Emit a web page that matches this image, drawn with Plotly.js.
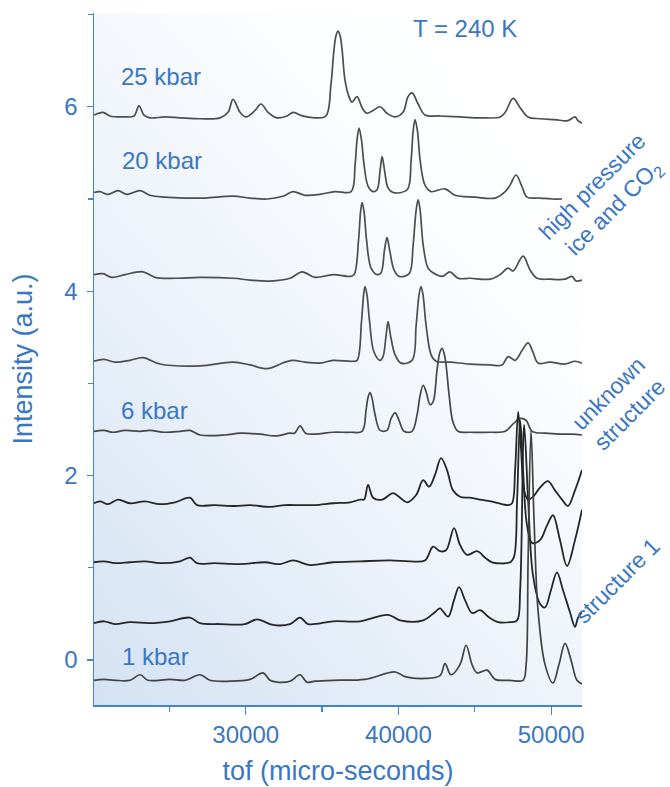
<!DOCTYPE html>
<html>
<head>
<meta charset="utf-8">
<script src="https://cdn.plot.ly/plotly-3.0.1.min.js"></script>
<style>html,body{margin:0;padding:0;background:#fff;}#chart{width:670px;height:787px;}</style>
</head>
<body>
<div id="chart"></div>
<script>
// ---- data (tof in micro-seconds, intensity in a.u., offsets included) ----
const tof_25kbar = [20065,20650,21110,22090,22680,23010,23340,23730,24710,25700,27010,28320,28840,29170,29630,30020,30610,31000,31460,32050,32700,33100,33560,34540,35250,35580,35780,35910,36040,36180,36310,36500,36760,36960,37290,37620,37940,38340,38800,39250,39780,40300,40630,40890,41290,41740,42720,44030,45350,46660,46990,47510,47970,48490,49270,50250,51100,51560,51760,52020];
const int_25kbar = [5.91,5.94,5.90,5.89,5.90,6.01,5.91,5.88,5.89,5.88,5.87,5.88,5.94,6.08,5.94,5.89,5.96,6.03,5.94,5.88,5.90,5.94,5.91,5.88,5.90,6.24,6.62,6.77,6.82,6.77,6.62,6.29,6.11,6.05,6.11,5.99,5.93,5.96,6.00,5.93,5.89,5.94,6.11,6.15,6.03,5.91,5.90,5.89,5.88,5.89,5.94,6.09,5.99,5.89,5.87,5.86,5.85,5.89,5.85,5.82];

const tof_20kbar = [20065,20460,20980,21640,22220,23080,23730,24710,26020,27340,29170,30280,31390,32440,33100,33880,34870,35850,36900,37160,37290,37420,37580,37750,38010,38340,38600,38800,38930,39090,39320,39650,40570,40830,40960,41090,41250,41420,41740,42140,43050,43700,45020,46330,46990,47310,47700,48100,48420,49270,50050,50710];
const int_20kbar = [5.07,5.08,5.05,5.09,5.05,5.09,5.04,5.02,5.01,5.01,5.03,5.01,5.00,5.03,5.08,5.04,5.05,5.08,5.08,5.37,5.64,5.77,5.64,5.37,5.14,5.08,5.10,5.31,5.46,5.31,5.12,5.07,5.10,5.42,5.73,5.86,5.73,5.42,5.15,5.08,5.11,5.04,5.02,5.01,5.08,5.15,5.26,5.13,5.02,5.01,5.00,5.00];

const tof_p3 = [20065,20650,21240,22090,23270,24060,25370,27010,29170,30280,31590,32900,33690,34540,35720,36830,37100,37390,37520,37620,37750,37910,38210,38600,38860,39090,39250,39420,39710,40040,40700,40960,41160,41290,41420,41620,41940,42270,42860,43380,43900,44690,46000,46660,47180,47510,48160,48620,49080,49920,50910,51370,51630,52020];
const int_p3 = [4.18,4.19,4.15,4.18,4.21,4.15,4.14,4.15,4.14,4.12,4.11,4.14,4.21,4.15,4.18,4.16,4.18,4.56,4.86,4.96,4.86,4.56,4.25,4.18,4.20,4.45,4.58,4.45,4.23,4.16,4.19,4.50,4.88,4.99,4.88,4.50,4.25,4.20,4.16,4.21,4.14,4.14,4.13,4.18,4.25,4.22,4.38,4.23,4.14,4.13,4.13,4.16,4.11,4.12];

const tof_p4 = [20065,20720,21440,22420,23270,24380,27010,29170,30280,31390,32570,33100,33880,34870,35720,36960,37290,37580,37720,37810,37940,38110,38400,38800,38990,39190,39320,39480,39780,40170,40890,41160,41350,41480,41610,41810,42140,42460,43380,44690,46000,46790,47180,47640,48100,48490,48810,49140,49920,50910,51560,52020];
const int_p4 = [3.24,3.26,3.23,3.25,3.28,3.21,3.19,3.23,3.20,3.16,3.23,3.25,3.23,3.22,3.25,3.24,3.25,3.67,3.96,4.05,3.96,3.67,3.34,3.25,3.29,3.52,3.67,3.52,3.31,3.22,3.25,3.63,3.96,4.05,3.96,3.63,3.31,3.24,3.23,3.21,3.20,3.20,3.29,3.25,3.36,3.44,3.34,3.22,3.23,3.21,3.24,3.22];

const tof_6kbar = [20065,20720,21310,22090,23080,23730,24710,25700,26350,27010,28650,29630,30940,31920,32900,33200,33560,33920,34540,35720,36830,37620,37880,38010,38140,38270,38470,38800,39250,39520,39780,40040,40370,40890,41220,41420,41620,41810,42070,42270,42530,42720,42860,43050,43320,43570,43900,44690,46000,46990,47510,47970,48360,48750,49600,50580,51370,52020];
const int_6kbar = [2.48,2.49,2.47,2.49,2.48,2.49,2.47,2.48,2.49,2.44,2.44,2.46,2.45,2.43,2.46,2.46,2.54,2.46,2.45,2.47,2.47,2.48,2.71,2.85,2.90,2.84,2.66,2.49,2.49,2.62,2.68,2.60,2.48,2.48,2.66,2.87,2.98,2.91,2.77,2.80,3.15,3.34,3.38,3.28,2.87,2.58,2.48,2.47,2.47,2.48,2.56,2.62,2.60,2.48,2.46,2.45,2.45,2.44];

const tof_p6 = [20065,20460,20980,21640,22420,23400,24380,25370,26350,26810,27990,29300,30280,31590,32570,33560,34540,35720,36830,37490,37750,38010,38340,38930,39650,40110,40570,41160,41620,42010,42400,42790,43180,43570,44030,44690,45350,46330,47180,47440,47640,47840,48030,48230,48490,48810,49270,49790,50250,50710,51100,51560,52020];
const int_p6 = [1.70,1.72,1.69,1.74,1.70,1.72,1.69,1.71,1.76,1.68,1.68,1.67,1.68,1.66,1.68,1.68,1.68,1.70,1.71,1.74,1.74,1.90,1.76,1.74,1.81,1.76,1.71,1.79,1.95,1.88,2.01,2.19,2.06,1.84,1.77,1.76,1.74,1.71,1.68,1.70,2.06,2.69,2.28,1.84,1.74,1.77,1.87,1.94,1.84,1.74,1.67,1.84,2.06];

const tof_p7 = [20065,20720,21440,22420,23400,24380,25700,26350,26810,27990,29630,31260,32250,33100,34210,35720,37490,39450,40760,41740,42270,42720,43120,43640,44030,44490,45150,45680,46130,47310,47570,47770,47970,48160,48420,48750,49270,49730,50120,50580,51040,51560,52020];
const int_p7 = [1.06,1.07,1.05,1.06,1.07,1.05,1.07,1.11,1.05,1.05,1.04,1.06,1.04,1.08,1.03,1.06,1.07,1.08,1.07,1.08,1.23,1.18,1.19,1.43,1.25,1.14,1.18,1.11,1.06,1.06,1.12,1.74,2.60,2.06,1.46,1.27,1.30,1.46,1.57,1.30,1.02,1.30,1.63];

const tof_p8 = [20065,20720,21440,22420,23730,25040,26350,27010,28320,29950,30740,31790,32900,33560,34080,35720,37490,39320,40110,41620,42400,42720,43250,43640,43970,44360,44820,45350,45880,46530,47310,47770,47970,48230,48490,48810,49270,49600,49990,50380,50770,51230,51560,51760,52020];
const int_p8 = [0.40,0.42,0.39,0.41,0.40,0.42,0.46,0.40,0.39,0.39,0.44,0.38,0.39,0.46,0.39,0.42,0.42,0.49,0.43,0.43,0.52,0.56,0.47,0.65,0.79,0.65,0.51,0.54,0.47,0.41,0.41,0.43,0.76,2.55,1.74,0.92,0.61,0.57,0.76,0.95,0.76,0.52,0.36,0.46,0.52];

const tof_1kbar = [20065,20720,21440,22420,23080,23600,25040,26020,27010,27660,28970,30280,31130,31590,32050,32900,33560,34010,34540,35720,37810,39780,40430,41740,42720,43050,43440,44030,44430,44820,45150,45810,46330,47310,48160,48360,48490,48680,48880,49140,49600,50120,50510,50910,51300,51690,52020];
const int_1kbar = [-0.22,-0.21,-0.22,-0.22,-0.16,-0.22,-0.21,-0.22,-0.16,-0.22,-0.23,-0.21,-0.14,-0.22,-0.24,-0.23,-0.16,-0.24,-0.23,-0.22,-0.21,-0.13,-0.18,-0.20,-0.17,-0.04,-0.16,-0.05,0.16,-0.05,-0.14,-0.11,-0.21,-0.22,-0.22,-0.05,1.08,2.49,1.52,0.54,-0.05,-0.25,-0.05,0.18,0.00,-0.22,-0.26];

const seriesNames = ["25 kbar","20 kbar","spectrum 3","spectrum 4","6 kbar","spectrum 6","spectrum 7","spectrum 8","1 kbar"];
const seriesX = [tof_25kbar,tof_20kbar,tof_p3,tof_p4,tof_6kbar,tof_p6,tof_p7,tof_p8,tof_1kbar];
const seriesY = [int_25kbar,int_20kbar,int_p3,int_p4,int_6kbar,int_p6,int_p7,int_p8,int_1kbar];
const pressureLabels = ["25 kbar","20 kbar","6 kbar","1 kbar"];
const xTitle = "tof (micro-seconds)";
const yTitle = "Intensity (a.u.)";

// ---- styling ----
const BLUE = '#3a77c2';
const AXIS = '#4284d3';
const FONT = '"Liberation Sans", Arial, Helvetica, sans-serif';
const W = 670, H = 787, ML = 94, MR = 88, MT = 13, MB = 82;
const PW = W - ML - MR, PH = H - MT - MB;
const px = v => (v - ML) / PW;
const py = v => (H - MB - v) / PH;

const lineStyles = [
  {c:'#4d4d4d', w:1.7},{c:'#4d4d4d', w:1.7},{c:'#4d4d4d', w:1.7},{c:'#4d4d4d', w:1.7},
  {c:'#474747', w:1.7},{c:'#262626', w:1.8},{c:'#262626', w:1.8},{c:'#262626', w:1.8},{c:'#424242', w:1.7}
];

const traces = seriesX.map((xs, i) => ({
  type: 'scatter', mode: 'lines', name: seriesNames[i],
  x: xs, y: seriesY[i],
  line: {color: lineStyles[i].c, width: lineStyles[i].w, shape: 'spline', smoothing: 1.0},
  hoverinfo: 'skip', showlegend: false
}));

const svg = "<svg xmlns='http://www.w3.org/2000/svg' width='488' height='692' viewBox='0 0 488 692' preserveAspectRatio='none'>" +
  "<defs><linearGradient id='g' x1='0' y1='1' x2='0.8' y2='0'>" +
  "<stop offset='0' stop-color='#d4e2f3'/><stop offset='0.45' stop-color='#edf3fa'/><stop offset='0.8' stop-color='#fdfeff'/><stop offset='1' stop-color='#ffffff'/>" +
  "</linearGradient></defs><rect width='488' height='692' fill='url(#g)'/></svg>";

const lab = (text, x, y, extra) => Object.assign({
  text: text, xref: 'paper', yref: 'paper', x: px(x), y: py(y),
  xanchor: 'left', yanchor: 'middle', showarrow: false,
  font: {family: FONT, size: 24, color: BLUE}
}, extra || {});

const rotFont = {family: FONT, size: 23, color: BLUE};
const annotations = [
  lab(pressureLabels[0], 119, 76),
  lab(pressureLabels[1], 120, 160),
  lab(pressureLabels[2], 119, 410),
  lab(pressureLabels[3], 120, 656),
  lab('T = 240 K', 411, 28),
  lab('high pressure<br>ice and CO<sub>2</sub>', 603, 198, {xanchor:'center', textangle:-45, font: rotFont}),
  lab('unknown<br>structure', 619, 404, {xanchor:'center', textangle:-45, font: rotFont}),
  lab('structure 1', 617, 581, {xanchor:'center', textangle:-45, font: rotFont})
];

const layout = {
  width: W, height: H,
  margin: {l: ML, r: MR, t: MT, b: MB, pad: 0},
  paper_bgcolor: '#ffffff', plot_bgcolor: 'rgba(0,0,0,0)',
  font: {family: FONT, color: BLUE},
  showlegend: false,
  xaxis: {
    range: [20065, 52020], showgrid: false, zeroline: false,
    showline: true, linecolor: AXIS, linewidth: 1.5,
    ticks: 'outside', ticklen: 8, tickwidth: 1.3, tickcolor: AXIS,
    tick0: 0, dtick: 10000, tickformat: 'd',
    minor: {dtick: 5000, ticks: 'outside', ticklen: 5, tickwidth: 1.3, tickcolor: AXIS, showgrid: false},
    tickfont: {family: FONT, size: 24, color: BLUE},
    title: {text: xTitle, font: {family: FONT, size: 27, color: BLUE}, standoff: 14}
  },
  yaxis: {
    range: [-0.488, 7.017], showgrid: false, zeroline: false,
    showline: true, linecolor: AXIS, linewidth: 1.5,
    ticks: 'outside', ticklen: 6, tickwidth: 1.3, tickcolor: AXIS,
    tick0: 0, dtick: 2,
    minor: {dtick: 1, ticks: 'outside', ticklen: 5, tickwidth: 1.3, tickcolor: AXIS, showgrid: false},
    tickfont: {family: FONT, size: 24, color: BLUE},
    ticklabelstandoff: 4,
    title: {text: yTitle, font: {family: FONT, size: 27, color: BLUE}, standoff: 24}
  },
  images: [{
    source: 'data:image/svg+xml;charset=utf-8,' + encodeURIComponent(svg),
    xref: 'paper', yref: 'paper', x: 0, y: 1, sizex: 1, sizey: 1,
    xanchor: 'left', yanchor: 'top', sizing: 'stretch', layer: 'below'
  }],
  annotations: annotations
};

Plotly.newPlot('chart', traces, layout, {displayModeBar: false, staticPlot: true});
</script>
</body>
</html>
